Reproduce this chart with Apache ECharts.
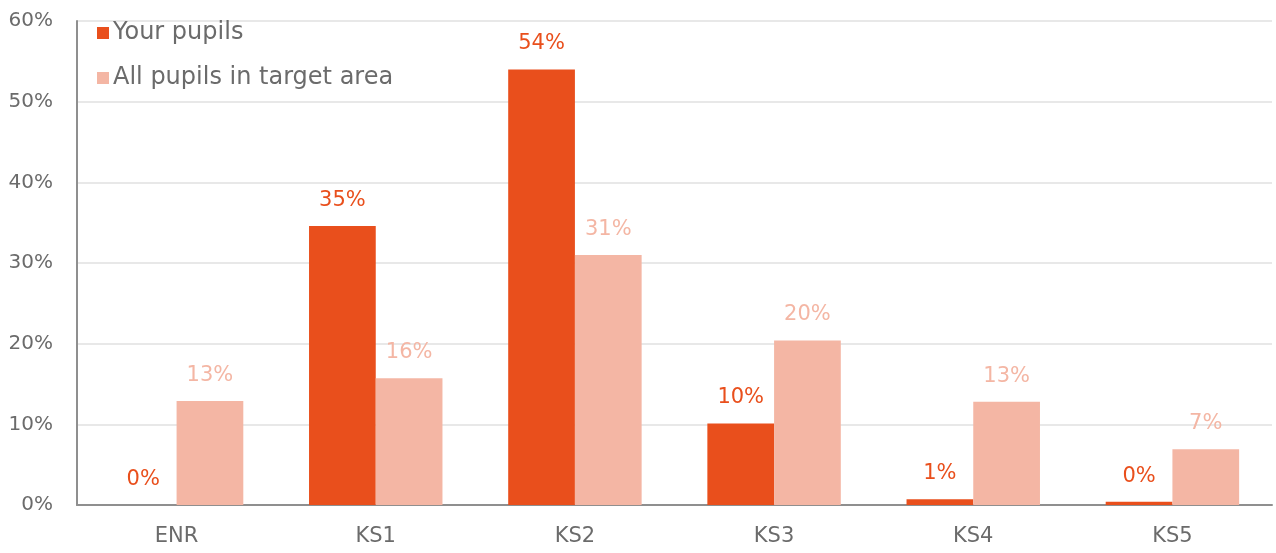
<!DOCTYPE html>
<html>
<head>
<meta charset="utf-8">
<script src="https://cdn.jsdelivr.net/npm/echarts@6/dist/echarts.min.js"></script>
<style>
  html, body { margin: 0; padding: 0; background: #fff; }
  #chart { width: 1276px; height: 553px; }
</style>
</head>
<body>
<div id="chart"></div>
<script>
// Share of pupils by key stage (percent)
const categories = ['ENR', 'KS1', 'KS2', 'KS3', 'KS4', 'KS5'];
const yourPupils = [0.0, 34.6, 54.0, 10.1, 0.7, 0.4];
const targetArea = [12.9, 15.7, 31.0, 20.4, 12.8, 6.9];
const seriesNames = ['Your pupils', 'All pupils in target area'];
const colors = ['#E94F1C', '#F4B6A4'];

const font = 'DejaVu Sans';
const textColor = '#6b6b6b';

const chart = echarts.init(document.getElementById('chart'));
chart.setOption({
  animation: false,
  textStyle: { fontFamily: font },
  legend: {
    orient: 'vertical',
    left: 92,
    top: 16,
    itemWidth: 12,
    itemHeight: 12,
    itemGap: 21,
    icon: 'rect',
    textStyle: { fontFamily: font, fontSize: 24, color: textColor, padding: [0, 0, 0, -1] },
    data: seriesNames
  },
  grid: { left: 77, right: 4, top: 21, bottom: 48, containLabel: false },
  xAxis: {
    type: 'category',
    data: categories,
    axisLine: { lineStyle: { color: '#8f8f8f', width: 2 } },
    axisTick: { show: false },
    axisLabel: { fontFamily: font, fontSize: 21, color: textColor, margin: 21 }
  },
  yAxis: {
    type: 'value',
    min: 0,
    max: 60,
    interval: 10,
    axisLine: { show: true, lineStyle: { color: '#8f8f8f', width: 2 } },
    axisTick: { show: false },
    splitLine: { lineStyle: { color: '#e8e8e8', width: 2 } },
    axisLabel: { fontFamily: font, fontSize: 20, color: textColor, margin: 24, formatter: v => v + '%' }
  },
  series: [
    {
      name: seriesNames[0],
      type: 'bar',
      data: yourPupils,
      barGap: '0%',
      barCategoryGap: '33%',
      itemStyle: { color: colors[0] },
      label: {
        show: true, position: 'top', distance: 15,
        fontFamily: font, fontSize: 21, color: colors[0],
        formatter: p => Math.round(p.value) + '%'
      }
    },
    {
      name: seriesNames[1],
      type: 'bar',
      data: targetArea,
      itemStyle: { color: colors[1] },
      label: {
        show: true, position: 'top', distance: 15,
        fontFamily: font, fontSize: 21, color: colors[1],
        formatter: p => Math.round(p.value) + '%'
      }
    }
  ]
});
</script>
</body>
</html>
